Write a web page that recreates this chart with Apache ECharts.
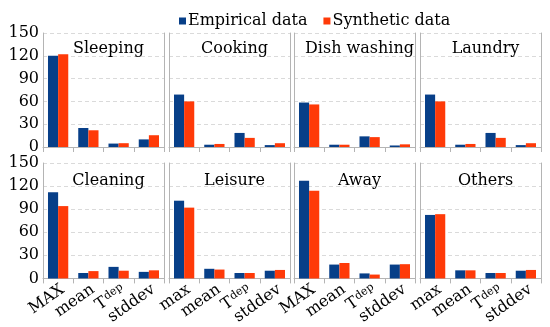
<!DOCTYPE html>
<html><head><meta charset="utf-8">
<script src="https://cdn.jsdelivr.net/npm/echarts@6/dist/echarts.min.js"></script>
<style>html,body{margin:0;padding:0;background:#fff}#c{width:550px;height:327px}</style>
</head><body><div id="c"></div>
<script>
const panelTitles = ['Sleeping','Cooking','Dish washing','Laundry','Cleaning','Leisure','Away','Others'];
const catsUpper = ['MAX','mean','T_dep','stddev'];
const catsLower = ['max','mean','T_dep','stddev'];
const panelCats = [catsUpper, catsLower, catsUpper, catsLower, catsUpper, catsLower, catsUpper, catsLower];
const yTicks = [0, 30, 60, 90, 120, 150];
const seriesNames = ['Empirical data', 'Synthetic data'];

const sleepingEmp = [120, 25, 4.5, 10];    const sleepingSyn = [122, 22, 5, 15.5];
const cookingEmp = [69, 3, 18.5, 2.5];     const cookingSyn = [60, 4, 12, 5];
const dishEmp = [58.5, 3, 14, 2];          const dishSyn = [56, 3, 13, 3.5];
const laundryEmp = [69, 3, 18.5, 2.5];     const laundrySyn = [60, 4, 12, 5];
const cleaningEmp = [112, 7, 15, 8.5];     const cleaningSyn = [94, 9.5, 10, 10.5];
const leisureEmp = [101, 12.5, 7, 10];     const leisureSyn = [92, 11.5, 7, 11];
const awayEmp = [127, 18, 6.5, 18];        const awaySyn = [114, 20, 5, 18.5];
const othersEmp = [82.5, 10.5, 7, 10];     const othersSyn = [83.5, 10.5, 7, 11];

const empData = [sleepingEmp, cookingEmp, dishEmp, laundryEmp, cleaningEmp, leisureEmp, awayEmp, othersEmp];
const synData = [sleepingSyn, cookingSyn, dishSyn, laundrySyn, cleaningSyn, leisureSyn, awaySyn, othersSyn];

const FONT = 'DejaVu Serif';
const BLUE = '#073F88', RED = '#FF3A08', GRAY = '#b4b4b4';
const colLeft = [43, 169, 294, 420];
const colW = 121;
const rowTop = [33, 163];
const rowH = [114, 119];

const grids = [], xAxes = [], yAxes = [], series = [], titles = [];
for (let i = 0; i < 8; i++) {
  const r = Math.floor(i / 4), c = i % 4;
  grids.push({left: colLeft[c], top: rowTop[r], width: colW, height: rowH[r], containLabel: false});
  xAxes.push({
    type: 'category', gridIndex: i, data: panelCats[i], boundaryGap: true,
    axisLine: {lineStyle: {color: GRAY, width: 1}},
    axisTick: {show: true, length: 5, lineStyle: {color: GRAY}},
    axisLabel: {
      show: r === 1, rotate: 35, interval: 0, margin: 3, color: '#000',
      fontFamily: FONT, fontSize: 16, verticalAlign: 'top',
      formatter: v => v === 'T_dep' ? '{t|T}{s|dep}' : v,
      rich: {t: {fontFamily: FONT, fontSize: 16, color: '#000'}, s: {fontFamily: FONT, fontSize: 11, color: '#000', padding: [0, 0, 6, 1]}}
    }
  });
  yAxes.push({
    type: 'value', gridIndex: i, min: yTicks[0], max: yTicks[yTicks.length - 1], interval: 30,
    axisLine: {show: true, lineStyle: {color: GRAY}},
    axisTick: {show: false},
    axisLabel: {show: c === 0, color: '#000', fontFamily: FONT, fontSize: 16, margin: 4},
    splitLine: {show: true, lineStyle: {color: '#dadada', type: [4, 3]}}
  });
  yAxes.push({
    type: 'value', gridIndex: i, position: 'right', min: 0, max: 150, interval: 30,
    axisLine: {show: true, lineStyle: {color: GRAY}},
    axisTick: {show: false}, axisLabel: {show: false}, splitLine: {show: false}
  });
  titles.push({
    text: panelTitles[i], left: colLeft[c] + colW / 2, top: rowTop[r] + (r === 0 ? 3 : 5), textAlign: 'center',
    textStyle: {fontFamily: FONT, fontSize: 16, fontWeight: 'normal', color: '#000'}
  });
  series.push({
    name: seriesNames[0], type: 'bar', xAxisIndex: i, yAxisIndex: 2 * i, data: empData[i],
    itemStyle: {color: BLUE}, barGap: '0%', barCategoryGap: '33%'
  });
  series.push({
    name: seriesNames[1], type: 'bar', xAxisIndex: i, yAxisIndex: 2 * i, data: synData[i],
    itemStyle: {color: RED}, barGap: '0%', barCategoryGap: '33%'
  });
}

const chart = echarts.init(document.getElementById('c'), null, {renderer: 'canvas'});
chart.setOption({
  animation: false,
  backgroundColor: '#fff',
  title: titles,
  legend: {
    data: seriesNames, left: 174, top: 8, icon: 'rect', itemWidth: 7, itemHeight: 7, itemGap: 16,
    textStyle: {fontFamily: FONT, fontSize: 16, color: '#000', padding: [0, 0, 0, -3]}
  },
  grid: grids, xAxis: xAxes, yAxis: yAxes, series: series
});
</script></body></html>
